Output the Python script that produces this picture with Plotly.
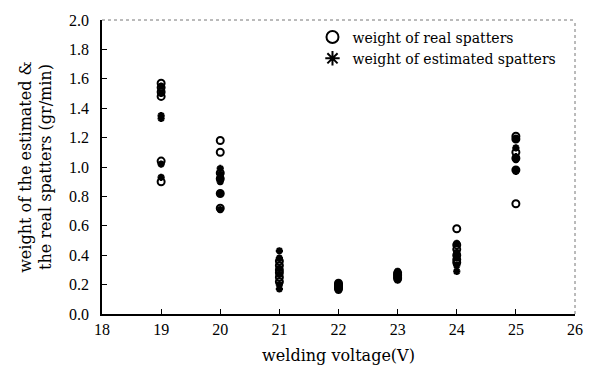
import plotly.graph_objects as go

voltages = [19, 20, 21, 22, 23, 24, 25]
real_spatters = {
    19: [1.57, 1.54, 1.51, 1.48, 1.04, 0.90],
    20: [1.18, 1.10, 0.96, 0.92, 0.82, 0.72],
    21: [0.36, 0.33, 0.30, 0.28, 0.25, 0.22],
    22: [0.21, 0.20, 0.19, 0.18, 0.17],
    23: [0.28, 0.27, 0.26, 0.25, 0.24],
    24: [0.58, 0.47, 0.44, 0.40, 0.37, 0.35],
    25: [1.21, 1.19, 1.10, 1.06, 0.98, 0.75],
}
estimated_spatters = {
    19: [1.55, 1.50, 1.35, 1.33, 1.02, 0.93],
    20: [0.99, 0.95, 0.93, 0.90, 0.82, 0.71],
    21: [0.43, 0.38, 0.31, 0.27, 0.20, 0.17],
    22: [0.20, 0.19, 0.18, 0.17, 0.16],
    23: [0.29, 0.27, 0.25, 0.23],
    24: [0.48, 0.42, 0.41, 0.38, 0.33, 0.29],
    25: [1.19, 1.13, 1.07, 1.05, 0.98, 0.97],
}
x_ticks = [18, 19, 20, 21, 22, 23, 24, 25, 26]
y_ticks = [0.0, 0.2, 0.4, 0.6, 0.8, 1.0, 1.2, 1.4, 1.6, 1.8, 2.0]

rx, ry, ex, ey = [], [], [], []
for v in voltages:
    for val in real_spatters[v]:
        rx.append(v); ry.append(val)
    for val in estimated_spatters[v]:
        ex.append(v); ey.append(val)

font = "Liberation Serif, serif"
wide = "DejaVu Serif, serif"

fig = go.Figure()
fig.add_trace(go.Scatter(
    x=rx, y=ry, mode="markers", name="weight of real spatters",
    marker=dict(symbol="circle-open", size=7, color="black", line=dict(width=2)),
))
fig.add_trace(go.Scatter(
    x=ex, y=ey, mode="markers", name="weight of estimated spatters",
    marker=dict(symbol="asterisk-open", size=6, color="black", line=dict(width=2.2, color="black")),
))

fig.update_layout(
    width=595, height=374,
    margin=dict(l=102, r=13, t=14, b=60),
    paper_bgcolor="white", plot_bgcolor="white",
    font=dict(family=font, size=16, color="black"),
    showlegend=True,
    legend=dict(x=0.445, y=0.995, xanchor="left", yanchor="top",
                bgcolor="rgba(0,0,0,0)", font=dict(size=14, family=wide),
                itemsizing="constant", tracegroupgap=0, itemwidth=30),
    xaxis=dict(range=[18, 26], tickvals=x_ticks, ticktext=[str(t) for t in x_ticks],
               ticks="inside", ticklen=5, tickcolor="black", showgrid=False, zeroline=False,
               showline=True, linecolor="black", linewidth=1.5,
               title=dict(text="welding voltage(V)", font=dict(size=16, family=wide), standoff=13),
               tickfont=dict(size=16)),
    yaxis=dict(range=[0, 2.0], tickvals=y_ticks, ticktext=[f"{t:.1f}" for t in y_ticks],
               ticks="inside", ticklen=5, tickcolor="black", showgrid=False, zeroline=False,
               showline=True, linecolor="black", linewidth=1.5, ticklabelstandoff=8,
               title=dict(text="weight of the estimated &<br>the real spatters (gr/min)",
                          font=dict(size=16, family=wide), standoff=13),
               tickfont=dict(size=16)),
)
fig.add_shape(type="line", xref="paper", yref="paper", x0=0, x1=1, y0=1, y1=1,
              line=dict(color="#777", width=1, dash="dot"))
fig.add_shape(type="line", xref="paper", yref="paper", x0=1, x1=1, y0=0, y1=1,
              line=dict(color="#777", width=1, dash="dot"))

fig.write_html("out.html")
